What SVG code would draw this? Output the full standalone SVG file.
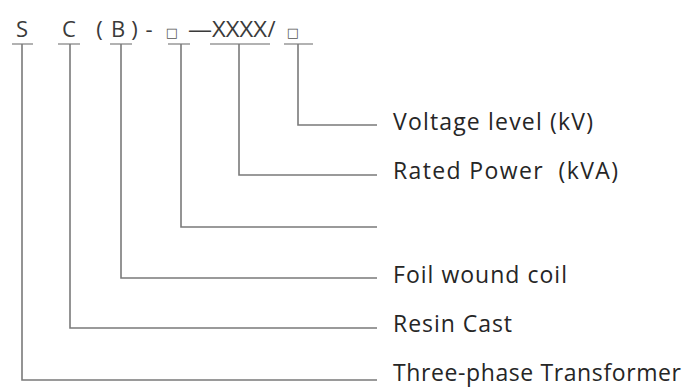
<svg xmlns="http://www.w3.org/2000/svg" width="687" height="388" viewBox="0 0 687 388">
<style>
.code{font-family:"Open Sans","Liberation Sans",sans-serif;font-size:22px;fill:#3a3a3a;text-anchor:middle}
.box{font-family:"DejaVu Sans","Liberation Sans",sans-serif;font-size:13px;fill:#555;text-anchor:middle;font-variant-emoji:text}
.lbl{font-family:"Open Sans","Liberation Sans",sans-serif;font-size:23px;fill:#262626}
.ul{stroke:#999;stroke-width:1.5;fill:none}
.conn{stroke:#7a7a7a;stroke-width:1.6;fill:none}
</style>
<rect width="687" height="388" fill="#fff"/>
<g id="code">
<text class="code" x="22" y="37">S</text>
<text class="code" x="69" y="37">C</text>
<text class="code" x="99.5" y="37">(</text>
<text class="code" x="118" y="37">B</text>
<text class="code" x="134.5" y="37">)</text>
<text class="code" x="149" y="37">-</text>
<text class="box" x="172" y="37">&#x25A1;&#xFE0E;</text>
<text class="code" x="200" y="37" textLength="24" lengthAdjust="spacingAndGlyphs">—</text>
<text class="code" x="239.5" y="37" textLength="55" lengthAdjust="spacingAndGlyphs">XXXX</text>
<text class="code" x="271.5" y="37">/</text>
<text class="box" x="293" y="37">&#x25A1;&#xFE0E;</text>
<line class="ul" x1="12" y1="44" x2="33" y2="44"/>
<line class="ul" x1="58" y1="44" x2="80" y2="44"/>
<line class="ul" x1="110" y1="44" x2="132" y2="44"/>
<line class="ul" x1="168" y1="44" x2="190" y2="44"/>
<line class="ul" x1="210" y1="44" x2="270" y2="44"/>
<line class="ul" x1="284" y1="44" x2="313" y2="44"/>
</g>
<g id="connectors">
<polyline class="conn" points="298,44 298,125 377,125"/>
<polyline class="conn" points="239,44 239,175 377,175"/>
<polyline class="conn" points="181,44 181,227 377,227"/>
<polyline class="conn" points="121,44 121,278 377,278"/>
<polyline class="conn" points="70,44 70,328 377,328"/>
<polyline class="conn" points="22,44 22,380 377,380"/>
</g>
<g id="voltage"><text class="lbl" x="393" y="130" textLength="200" lengthAdjust="spacing">Voltage level (kV)</text></g>
<g id="power"><text class="lbl" x="393" y="179" textLength="225" lengthAdjust="spacing" style="white-space:pre">Rated Power  (kVA)</text></g>
<g id="foil"><text class="lbl" x="393" y="283" textLength="174" lengthAdjust="spacing">Foil wound coil</text></g>
<g id="resin"><text class="lbl" x="393" y="332" textLength="119" lengthAdjust="spacing">Resin Cast</text></g>
<g id="transformer"><text class="lbl" x="393" y="381" textLength="288" lengthAdjust="spacing">Three-phase Transformer</text></g>
</svg>
